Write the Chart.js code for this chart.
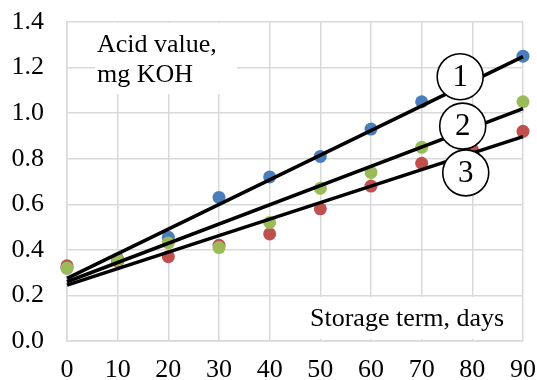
<!DOCTYPE html>
<html>
<head>
<meta charset="utf-8">
<script src="https://cdn.jsdelivr.net/npm/chart.js@4.4.1/dist/chart.umd.min.js"></script>
<style>
  html, body { margin: 0; padding: 0; background: #fff; }
  #wrap { width: 537px; height: 380px; }
</style>
</head>
<body>
<div id="wrap"><canvas id="chart" width="537" height="380"></canvas></div>
<script>
// storage term, days
var days = [0, 10, 20, 30, 40, 50, 60, 70, 80, 90];
// acid value, mg KOH
var sample1 = [0.32, 0.36, 0.455, 0.63, 0.72, 0.81, 0.93, 1.05, 1.13, 1.25];
var sample2 = [0.32, 0.355, 0.43, 0.41, 0.52, 0.67, 0.74, 0.85, 0.95, 1.05];
var sample3 = [0.33, 0.35, 0.37, 0.42, 0.47, 0.58, 0.68, 0.78, 0.84, 0.92];
// trend lines (start / end values)
var trendDays = [0, 90];
var trend1 = [0.275, 1.248];
var trend2 = [0.26, 1.02];
var trend3 = [0.245, 0.897];
var lineNames = ['1', '2', '3'];

var FONT = "'Liberation Serif', 'Times New Roman', serif";

function pts(xs, ys) {
  return xs.map(function (x, i) { return { x: x, y: ys[i] }; });
}

function dots(data, color, order) {
  return {
    data: pts(days, data),
    backgroundColor: color,
    borderWidth: 0,
    pointRadius: 6.5,
    pointHoverRadius: 6.5,
    showLine: false,
    clip: false,
    order: order
  };
}

function trend(data) {
  return {
    data: pts(trendDays, data),
    borderColor: '#000',
    borderWidth: 3.5,
    pointRadius: 0,
    showLine: true,
    fill: false,
    clip: false,
    order: 0
  };
}

// text boxes and numbered circles
var labelsPlugin = {
  id: 'labels',
  beforeDatasetsDraw: function (chart) {
    var ctx = chart.ctx, xs = chart.scales.x, ys = chart.scales.y;
    ctx.save();
    ctx.fillStyle = '#fff';
    ctx.fillRect(95, ys.top + 1, 142, 71);
    ctx.fillRect(300, 297, xs.right - 302, ys.bottom - 299);
    ctx.fillStyle = '#000';
    ctx.font = '26px ' + FONT;
    ctx.textBaseline = 'alphabetic';
    ctx.textAlign = 'left';
    ctx.fillText('Acid value,', 97, 52);
    ctx.fillText('mg KOH', 97, 82);
    ctx.fillText('Storage term, days', 310, 326);
    ctx.restore();
  },
  afterDatasetsDraw: function (chart) {
    var ctx = chart.ctx, xs = chart.scales.x, ys = chart.scales.y;
    var where = [[77.6, 1.16], [78.1, 0.943], [78.7, 0.738]];
    ctx.save();
    ctx.font = '31px ' + FONT;
    ctx.textAlign = 'center';
    ctx.textBaseline = 'middle';
    where.forEach(function (p, i) {
      var cx = xs.getPixelForValue(p[0]), cy = ys.getPixelForValue(p[1]);
      ctx.beginPath();
      ctx.arc(cx, cy, 23, 0, Math.PI * 2);
      ctx.fillStyle = '#fff';
      ctx.fill();
      ctx.lineWidth = 1.6;
      ctx.strokeStyle = '#000';
      ctx.stroke();
      ctx.fillStyle = '#000';
      ctx.fillText(lineNames[i], cx, cy + 1);
    });
    ctx.restore();
  }
};

window.onload = function () {
  window.myChart = new Chart(document.getElementById('chart').getContext('2d'), {
    type: 'scatter',
    data: {
      datasets: [
        dots(sample1, '#4A7EBB', 3),
        dots(sample3, '#C0504D', 2),
        dots(sample2, '#9BBB59', 1),
        trend(trend1),
        trend(trend2),
        trend(trend3)
      ]
    },
    options: {
      responsive: false,
      animation: false,
      layout: { padding: { top: 22, right: 14, left: 0, bottom: 0 } },
      plugins: {
        legend: { display: false },
        tooltip: { enabled: false }
      },
      scales: {
        x: {
          type: 'linear',
          min: 0,
          max: 90,
          afterFit: function (s) {
            s.height = 39;
            s.paddingLeft = 0;
            s.paddingRight = 0;
          },
          ticks: {
            stepSize: 10,
            padding: 14,
            color: '#000',
            font: { family: FONT, size: 26 },
            maxRotation: 0
          },
          grid: { color: '#d9d9d9', lineWidth: 1.5, drawTicks: false },
          border: { color: '#d9d9d9', width: 1.5 }
        },
        y: {
          min: 0,
          max: 1.4,
          afterFit: function (s) {
            s.width = 67;
            s.paddingTop = 0;
            s.paddingBottom = 0;
          },
          ticks: {
            stepSize: 0.2,
            padding: 23,
            color: '#000',
            font: { family: FONT, size: 26 },
            callback: function (v) { return v.toFixed(1); }
          },
          grid: { color: '#d9d9d9', lineWidth: 1.5, drawTicks: false },
          border: { color: '#d9d9d9', width: 1.5 }
        }
      }
    },
    plugins: [labelsPlugin]
  });
};
</script>
</body>
</html>
